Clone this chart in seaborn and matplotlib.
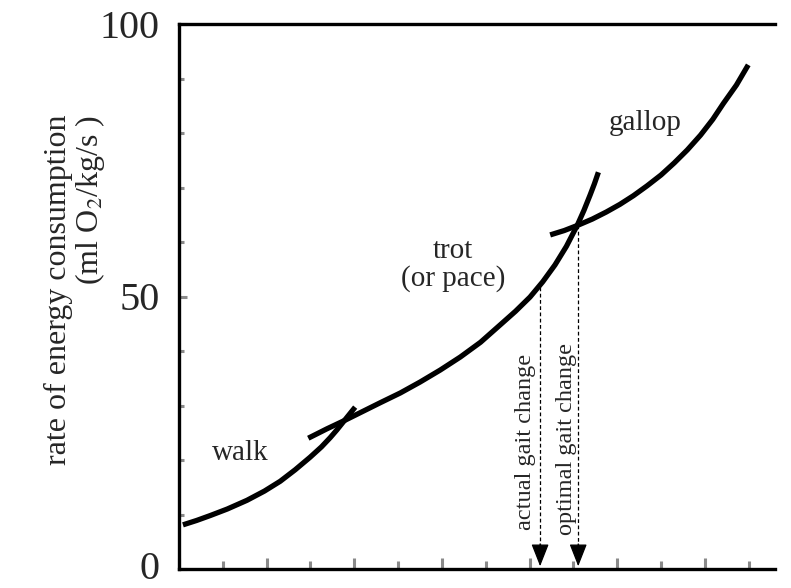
import numpy as np
import pandas as pd
import matplotlib
matplotlib.use("Agg")
import matplotlib.pyplot as plt
import matplotlib.transforms as mtransforms
import seaborn as sns

# ---- data (x in tick units, y in ml O2/kg/s) ----
walk_x = [0.09, 0.40, 0.71, 1.10, 1.55, 1.95, 2.31, 2.65, 2.99, 3.25, 3.45, 3.60, 3.74, 3.88, 4.02]
walk_y = [8.1, 8.9, 9.8, 11.0, 12.6, 14.3, 16.1, 18.2, 20.5, 22.4, 24.1, 25.5, 26.9, 28.3, 29.7]

trot_x = [2.95, 3.37, 3.79, 4.19, 4.59, 5.05, 5.50, 5.96, 6.42, 6.88, 7.33, 7.68,
          8.01, 8.30, 8.58, 8.84, 9.09, 9.24, 9.38, 9.48, 9.57]
trot_y = [24.0, 25.7, 27.3, 28.9, 30.5, 32.3, 34.3, 36.5, 38.9, 41.6, 44.8, 47.3,
          49.9, 52.7, 55.8, 59.2, 63.1, 65.8, 68.6, 70.7, 72.8]

gallop_x = [8.47, 8.79, 9.11, 9.43, 9.75, 10.06, 10.37, 10.68, 11.0, 11.3, 11.6,
            11.9, 12.18, 12.42, 12.72, 12.99]
gallop_y = [61.3, 62.1, 63.1, 64.2, 65.5, 66.9, 68.5, 70.3, 72.3, 74.5, 76.9,
            79.6, 82.5, 85.4, 88.8, 92.5]

change_labels = ["actual gait change", "optimal gait change"]
change_x = [8.24, 9.11]
change_y = [51.7, 63.1]

gait_labels = ["walk", "trot\n(or pace)", "gallop"]
gait_label_x = [1.39, 6.26, 10.64]
gait_label_y = [21.3, 55.8, 81.8]

y_ticks = [0, 50, 100]
y_ticklabels = ["0", "50", "100"]
ylabel_lines = ["rate of energy consumption", "(ml O$_{2}$/kg/s )"]

sns.set_style("white")
plt.rcParams["font.family"] = ["Liberation Serif", "DejaVu Serif"]
plt.rcParams["mathtext.fontset"] = "stix"

fig = plt.figure(figsize=(7.91, 5.88), dpi=100)
ax = fig.add_axes([179 / 791, 1 - 569 / 588, (775 - 179) / 791, (569 - 24) / 588])

frames = []
for name, xs, ys in [("walk", walk_x, walk_y), ("trot", trot_x, trot_y), ("gallop", gallop_x, gallop_y)]:
    frames.append(pd.DataFrame({"x": xs, "y": ys, "gait": name}))
df = pd.concat(frames, ignore_index=True)

for name in ["walk", "trot", "gallop"]:
    sub = df[df.gait == name]
    sns.lineplot(data=sub, x="x", y="y", ax=ax, color="black", lw=3.8,
                 sort=False, estimator=None, solid_capstyle="butt",
                 solid_joinstyle="round")

# dashed drop lines with arrow heads
for cx, cy in zip(change_x, change_y):
    ax.plot([cx, cx], [cy, 3.5], ls=(0, (3, 2)), color="black", lw=0.9)
    ax.annotate("", xy=(cx, 0.5), xytext=(cx, 4.6),
                arrowprops=dict(arrowstyle="-|>,head_length=1.4,head_width=0.55",
                                color="black", lw=0.9, shrinkA=0, shrinkB=0))

ax.text(7.90, 23.3, change_labels[0], rotation=90, ha="center", va="center", fontsize=17.5)
ax.text(8.84, 23.9, change_labels[1], rotation=90, ha="center", va="center", fontsize=17.5)

for lab, lx, ly in zip(gait_labels, gait_label_x, gait_label_y):
    ax.text(lx, ly, lab, ha="center", va="center", fontsize=21,
            multialignment="center", linespacing=1.05)

ax.set_xlim(0, 13.6)
ax.set_ylim(0, 100)

for s in ["left", "bottom", "top"]:
    ax.spines[s].set_visible(True)
    ax.spines[s].set_color("black")
    ax.spines[s].set_linewidth(2.4)
ax.spines["right"].set_visible(False)

ax.set_xticks(list(range(0, 14, 2)))
ax.set_xticks(list(range(1, 14, 2)), minor=True)
ax.set_xticklabels([])
ax.tick_params(axis="x", which="major", direction="in", length=8, width=2.2,
               color="#8a8a8a", bottom=True)
ax.tick_params(axis="x", which="minor", direction="in", length=5.5, width=2.2,
               color="#8a8a8a", bottom=True)

ax.set_yticks(y_ticks)
ax.set_yticklabels(y_ticklabels, fontsize=29)
ax.set_yticks([10, 20, 30, 40, 60, 70, 80, 90], minor=True)
ax.tick_params(axis="y", which="major", direction="in", length=6, width=2.2,
               color="#8a8a8a", left=True, pad=14)
ax.tick_params(axis="y", which="minor", direction="in", length=3.5, width=2.2,
               color="#8a8a8a", left=True)
ax.set_xlabel("")
ax.set_ylabel("")
# nudge the "0" label up slightly so it stays inside the figure
lbl0 = ax.get_yticklabels()[0]
lbl0.set_transform(lbl0.get_transform() + mtransforms.ScaledTranslation(0, 3 / 72, fig.dpi_scale_trans))

fig.text(75 / 791, 1 - 290 / 588, "\n".join(ylabel_lines), rotation=90,
         ha="center", va="center", multialignment="right", fontsize=23,
         linespacing=1.0)

fig.savefig("out.png", dpi=100)
